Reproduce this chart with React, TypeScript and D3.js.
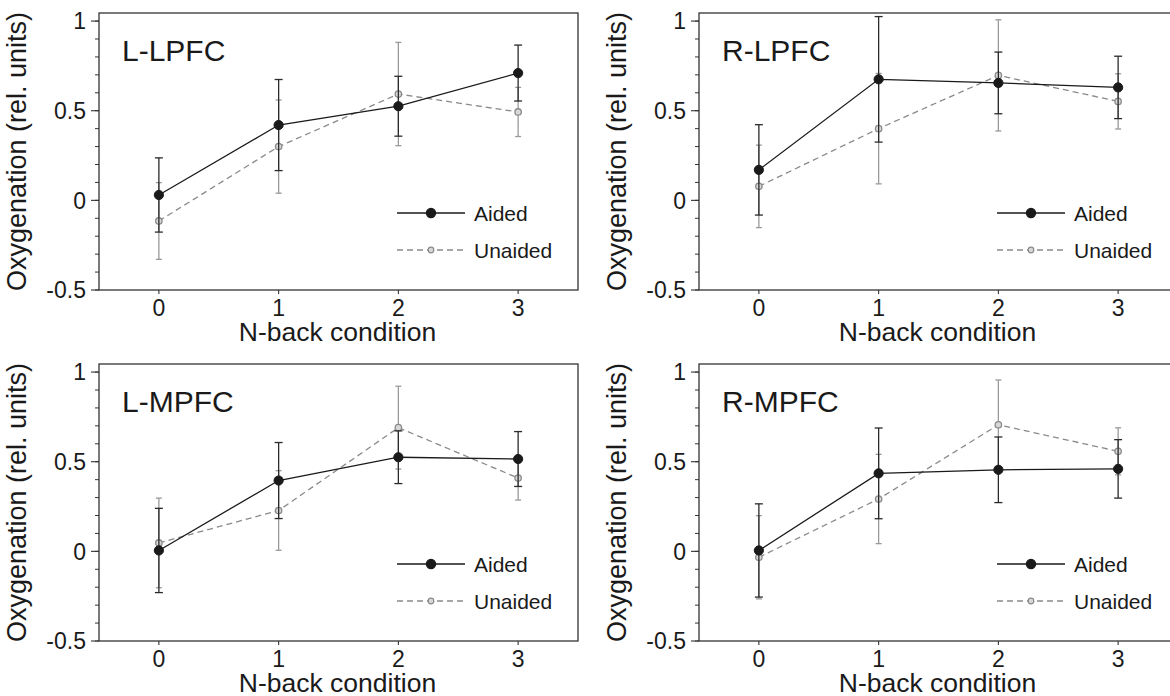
import React from "react";
import * as d3 from "d3";

// N-back levels on the x axis
const conditions = [0, 1, 2, 3];
const regions = ["L-LPFC", "R-LPFC", "L-MPFC", "R-MPFC"];

// means and half-width of the error bars, one row per region
const aidedMean = [
  [0.03, 0.42, 0.525, 0.71],
  [0.17, 0.675, 0.655, 0.63],
  [0.005, 0.395, 0.525, 0.515],
  [0.005, 0.435, 0.455, 0.46],
];
const aidedErr = [
  [0.207, 0.254, 0.167, 0.156],
  [0.252, 0.35, 0.172, 0.174],
  [0.235, 0.212, 0.147, 0.153],
  [0.26, 0.253, 0.183, 0.163],
];
const unaidedMean = [
  [-0.115, 0.3, 0.593, 0.493],
  [0.078, 0.4, 0.697, 0.552],
  [0.047, 0.228, 0.69, 0.409],
  [-0.033, 0.292, 0.706, 0.558],
];
const unaidedErr = [
  [0.214, 0.26, 0.288, 0.137],
  [0.23, 0.308, 0.31, 0.154],
  [0.25, 0.222, 0.231, 0.123],
  [0.232, 0.249, 0.25, 0.131],
];

const yMajor = [-0.5, 0, 0.5, 1];
const yMinor = d3.range(-5, 11).map((d) => d / 10);
const xLabel = "N-back condition";
const yLabel = "Oxygenation (rel. units)";

const FONT = "'Liberation Sans', Arial, Helvetica, sans-serif";
const W = 479;
const H = 277;
const origins = [
  [99, 13],
  [699, 13],
  [99, 364],
  [699, 364],
];

function Panel({ idx }) {
  const [x0, y0] = origins[idx];
  const x = d3.scaleLinear().domain([-0.5, 3.5]).range([x0, x0 + W]);
  const y = d3.scaleLinear().domain([-0.5, 1.045]).range([y0 + H, y0]);
  const line = d3
    .line()
    .x((d) => x(d[0]))
    .y((d) => y(d[1]));

  const series = [
    {
      name: "Unaided",
      mean: unaidedMean[idx],
      err: unaidedErr[idx],
      color: "#8a8a8a",
      bar: "#9a9a9a",
      dash: "6,4",
      r: 3.2,
      fill: "#d8d8d8",
      cap: 3,
    },
    {
      name: "Aided",
      mean: aidedMean[idx],
      err: aidedErr[idx],
      color: "#1a1a1a",
      bar: "#2a2a2a",
      dash: null,
      r: 4.6,
      fill: "#1a1a1a",
      cap: 4,
    },
  ];
  const bottom = y0 + H;

  return (
    <g>
      {/* frame */}
      <rect x={x0} y={y0} width={W} height={H} fill="none" stroke="#333" strokeWidth={1.3} />
      {/* y ticks */}
      {yMinor.map((v) => (
        <line key={"m" + v} x1={x0 - 4} x2={x0} y1={y(v)} y2={y(v)} stroke="#333" strokeWidth={1} />
      ))}
      {yMajor.map((v) => (
        <g key={"M" + v}>
          <line x1={x0 - 8} x2={x0} y1={y(v)} y2={y(v)} stroke="#333" strokeWidth={1.1} />
          <text x={x0 - 13} y={y(v)} dy="0.36em" textAnchor="end" fontSize={23} fontFamily={FONT} fill="#1a1a1a">
            {v}
          </text>
        </g>
      ))}
      {/* x ticks */}
      {conditions.map((c) => (
        <g key={"x" + c}>
          <line x1={x(c)} x2={x(c)} y1={bottom} y2={bottom + 4} stroke="#333" strokeWidth={1.1} />
          <text x={x(c)} y={bottom + 26} textAnchor="middle" fontSize={23} fontFamily={FONT} fill="#1a1a1a">
            {c}
          </text>
        </g>
      ))}
      <text x={x0 + W / 2 - 1} y={bottom + 51} textAnchor="middle" fontSize={26.5} fontFamily={FONT} fill="#1a1a1a">
        {xLabel}
      </text>
      <text
        transform={`translate(${x0 - 73},${y0 + H / 2}) rotate(-90)`}
        textAnchor="middle"
        fontSize={27}
        fontFamily={FONT}
        fill="#1a1a1a"
      >
        {yLabel}
      </text>
      <text x={x0 + 23} y={y0 + 48} fontSize={30} fontFamily={FONT} fill="#1a1a1a">
        {regions[idx]}
      </text>

      {/* data */}
      {series.map((s) => {
        const pts = conditions.map((c, i) => [c, s.mean[i]]);
        return (
          <g key={s.name}>
            {conditions.map((c, i) => {
              const top = y(s.mean[i] + s.err[i]);
              const bot = y(s.mean[i] - s.err[i]);
              return (
                <g key={c} stroke={s.bar} strokeWidth={1.3}>
                  <line x1={x(c)} x2={x(c)} y1={top} y2={bot} />
                  <line x1={x(c) - s.cap} x2={x(c) + s.cap} y1={top} y2={top} />
                  <line x1={x(c) - s.cap} x2={x(c) + s.cap} y1={bot} y2={bot} />
                </g>
              );
            })}
            <path
              d={line(pts)}
              fill="none"
              stroke={s.color}
              strokeWidth={1.3}
              strokeDasharray={s.dash || undefined}
            />
            {pts.map((p, i) => (
              <circle
                key={i}
                cx={x(p[0])}
                cy={y(p[1])}
                r={s.r}
                fill={s.fill}
                stroke={s.color}
                strokeWidth={s.name === "Aided" ? 1 : 1.3}
              />
            ))}
          </g>
        );
      })}

      {/* legend */}
      {[
        { s: series[1], dy: 200 },
        { s: series[0], dy: 237 },
      ].map(({ s, dy }) => (
        <g key={"lg" + s.name}>
          <line
            x1={x0 + 298}
            x2={x0 + 366}
            y1={y0 + dy}
            y2={y0 + dy}
            stroke={s.color}
            strokeWidth={1.3}
            strokeDasharray={s.dash || undefined}
          />
          <circle
            cx={x0 + 332}
            cy={y0 + dy}
            r={s.name === "Aided" ? 4.6 : 2.8}
            fill={s.fill}
            stroke={s.color}
            strokeWidth={1.2}
          />
          <text x={x0 + 375} y={y0 + dy} dy="0.36em" fontSize={21} fontFamily={FONT} fill="#1a1a1a">
            {s.name}
          </text>
        </g>
      ))}
    </g>
  );
}

export default function App() {
  return (
    <svg
      width={1170}
      height={696}
      style={{ position: "absolute", left: 0, top: 0, background: "#fff" }}
    >
      {regions.map((r, i) => (
        <Panel key={r} idx={i} />
      ))}
    </svg>
  );
}
